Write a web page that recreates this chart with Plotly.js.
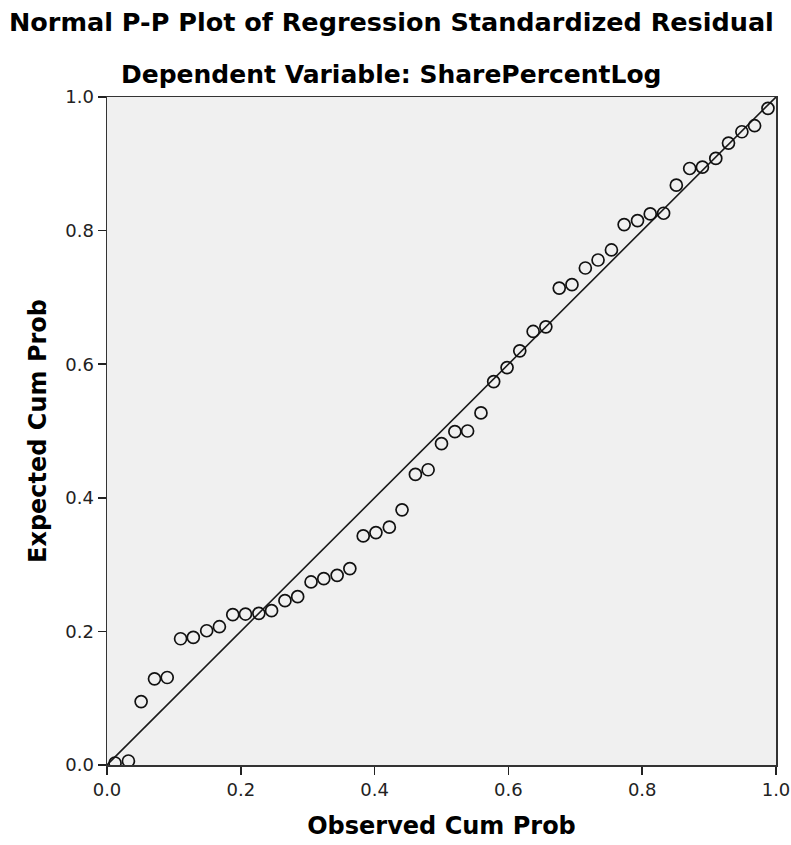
<!DOCTYPE html>
<html>
<head>
<meta charset="utf-8">
<script src="https://cdn.plot.ly/plotly-3.0.1.min.js"></script>
<style>
  html, body { margin: 0; padding: 0; background: #ffffff; }
  #chart { width: 791px; height: 845px; }
</style>
</head>
<body>
<div id="chart"></div>
<script>
// Observed cumulative probability (x) for each residual
const observedCumProb = [
  0.012, 0.032, 0.051, 0.071, 0.090, 0.110, 0.129, 0.149, 0.168, 0.188,
  0.207, 0.227, 0.246, 0.266, 0.285, 0.305, 0.324, 0.344, 0.363, 0.383,
  0.402, 0.422, 0.441, 0.461, 0.480, 0.500, 0.520, 0.539, 0.559, 0.578,
  0.598, 0.617, 0.637, 0.656, 0.676, 0.695, 0.715, 0.734, 0.754, 0.773,
  0.793, 0.812, 0.832, 0.851, 0.871, 0.890, 0.910, 0.929, 0.949, 0.968,
  0.988
];
// Expected cumulative probability (y)
const expectedCumProb = [
  0.003, 0.006, 0.095, 0.129, 0.131, 0.189, 0.191, 0.201, 0.207, 0.225,
  0.226, 0.227, 0.231, 0.246, 0.252, 0.274, 0.279, 0.284, 0.294, 0.343,
  0.348, 0.356, 0.382, 0.435, 0.442, 0.481, 0.499, 0.500, 0.527, 0.574,
  0.595, 0.620, 0.649, 0.656, 0.714, 0.719, 0.744, 0.756, 0.771, 0.809,
  0.815, 0.825, 0.826, 0.868, 0.893, 0.895, 0.908, 0.931, 0.948, 0.957,
  0.983
];
// Reference diagonal
const refLineX = [0, 1];
const refLineY = [0, 1];
const tickValues = [0, 0.2, 0.4, 0.6, 0.8, 1.0];
const tickLabels = ["0.0", "0.2", "0.4", "0.6", "0.8", "1.0"];

const mainTitle = "Normal P-P Plot of Regression Standardized Residual";
const subTitle = "Dependent Variable: SharePercentLog";
const xTitle = "Observed Cum Prob";
const yTitle = "Expected Cum Prob";

const FONT = "'DejaVu Sans', 'Liberation Sans', Arial, sans-serif";

const traces = [
  {
    x: refLineX, y: refLineY, mode: "lines", type: "scatter",
    line: { color: "#1a1a1a", width: 1.6 },
    hoverinfo: "skip", showlegend: false
  },
  {
    x: observedCumProb, y: expectedCumProb, mode: "markers", type: "scatter",
    marker: { symbol: "circle-open", size: 12, color: "#111111", line: { width: 1.7, color: "#111111" } },
    showlegend: false
  }
];

const axisCommon = {
  range: [0, 1],
  tickvals: tickValues,
  ticktext: tickLabels,
  ticks: "outside",
  ticklen: 8,
  tickwidth: 1.5,
  tickcolor: "#222222",
  showline: true,
  linecolor: "#333333",
  linewidth: 1.5,
  mirror: true,
  showgrid: false,
  zeroline: false,
  tickfont: { family: FONT, size: 18, color: "#222222" }
};

const layout = {
  width: 791, height: 845,
  paper_bgcolor: "#ffffff",
  plot_bgcolor: "#f0f0f0",
  margin: { l: 107, r: 15, t: 97, b: 80 },
  font: { family: FONT, color: "#000000" },
  xaxis: Object.assign({}, axisCommon, {
    title: { text: xTitle, font: { family: FONT, size: 24, color: "#000000", weight: "bold" }, standoff: 18 }
  }),
  yaxis: Object.assign({}, axisCommon, {
    title: { text: yTitle, font: { family: FONT, size: 24, color: "#000000", weight: "bold" }, standoff: 12 }
  }),
  annotations: [
    {
      text: "<b>" + mainTitle + "</b>", xref: "paper", yref: "paper",
      x: 0.425, y: 1.112, xanchor: "center", yanchor: "middle", showarrow: false,
      font: { family: FONT, size: 25.5, color: "#000000" }
    },
    {
      text: "<b>" + subTitle + "</b>", xref: "paper", yref: "paper",
      x: 0.425, y: 1.033, xanchor: "center", yanchor: "middle", showarrow: false,
      font: { family: FONT, size: 25, color: "#000000" }
    }
  ]
};

Plotly.newPlot("chart", traces, layout, { displayModeBar: false, staticPlot: true });
</script>
</body>
</html>
